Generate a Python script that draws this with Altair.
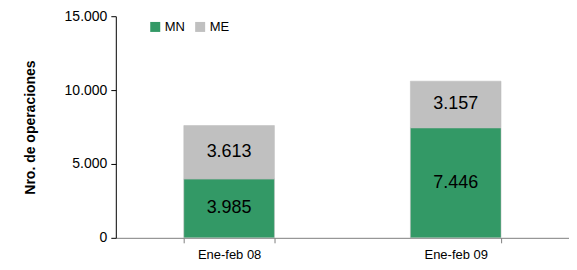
import altair as alt
import pandas as pd

categories = ["Ene-feb 08", "Ene-feb 08", "Ene-feb 09", "Ene-feb 09"]
series = ["MN", "ME", "MN", "ME"]
values = [3985, 3613, 7446, 3157]
order = [0, 1, 0, 1]

df = pd.DataFrame({"cat": categories, "serie": series, "value": values, "ord": order})

FONT = "Liberation Sans"

base = alt.Chart(df).transform_stack(
    stack="value", groupby=["cat"], sort=[alt.SortField("ord", order="ascending")], as_=["y0", "y1"]
).transform_calculate(
    mid="(datum.y0 + datum.y1) / 2",
    lbl="replace(format(datum.value, ',d'), ',', '.')",
)

x = alt.X(
    "cat:N",
    title=None,
    sort=["Ene-feb 08", "Ene-feb 09"],
    scale=alt.Scale(paddingInner=0.6, paddingOuter=0.3),
    axis=alt.Axis(
        tickBand="extent", labelAngle=0, labelFontSize=13, labelFont=FONT, labelColor="#000",
        domainColor="#808080", tickColor="#808080", tickSize=5, labelPadding=6,
    ),
)

bars = base.mark_bar(stroke="#bbbbbb", strokeWidth=0.5).encode(
    x=x,
    y=alt.Y(
        "y0:Q",
        title="Nro. de operaciones",
        scale=alt.Scale(domain=[0, 15000], nice=False),
        axis=alt.Axis(
            values=[0, 5000, 10000, 15000],
            labelExpr="replace(format(datum.value, ',d'), ',', '.')",
            labelFontSize=14, labelFont=FONT, labelColor="#000",
            titleFont=FONT, titleFontSize=14, titleFontWeight="bold", titleColor="#000",
            titlePadding=27, domainColor="#000", tickColor="#000", tickSize=5, grid=False,
            labelPadding=4,
        ),
    ),
    y2="y1:Q",
    color=alt.Color(
        "serie:N",
        scale=alt.Scale(domain=["MN", "ME"], range=["#339966", "#c0c0c0"]),
        legend=alt.Legend(
            title=None, orient="none", legendX=33, legendY=4, direction="horizontal",
            symbolType="square", symbolSize=100, symbolStrokeWidth=0, labelFont=FONT,
            labelFontSize=13, labelColor="#000", columnPadding=8, labelOffset=3,
        ),
    ),
)

texts = base.mark_text(fontSize=18, font=FONT, color="#000").encode(
    x=x,
    y=alt.Y("mid:Q"),
    text="lbl:N",
)

chart = alt.layer(bars, texts).properties(
    width=454, height=222,
    autosize=alt.AutoSizeParams(type="none"),
    padding={"left": 108, "top": 8, "right": 0, "bottom": 23},
).configure_view(stroke=None)

chart.save("out.html", embed_options={"renderer": "svg", "actions": False})
